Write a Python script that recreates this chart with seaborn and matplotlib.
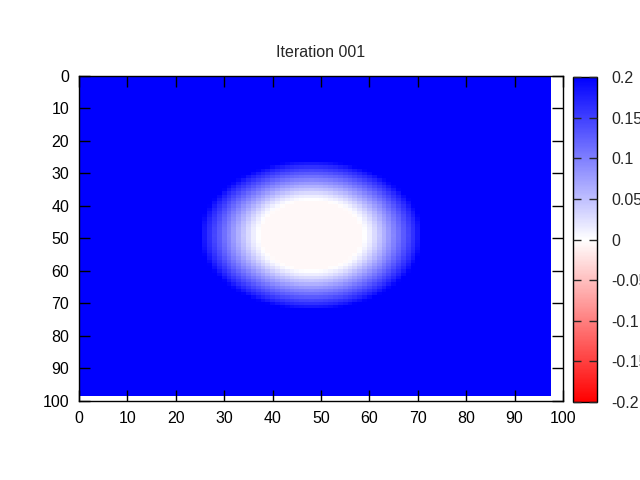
import numpy as np
import pandas as pd
import matplotlib
matplotlib.use('Agg')
import matplotlib.pyplot as plt
import seaborn as sns

sns.set_theme(style='ticks')
plt.rcParams['font.family'] = ['Liberation Sans', 'DejaVu Sans']

# grid size and blob centre
n_cols = 98
n_rows = 99
centre_x = 48
centre_y = 49

ring_radius = [0, 10.5, 11, 12.5, 14, 15.5, 17, 18.5, 20, 21.5, 23, 80]
ring_value = [-0.006, -0.006, 0.0, 0.02, 0.045, 0.07, 0.095, 0.12, 0.145,
              0.17, 0.2, 0.2]

x_ticks = [0, 10, 20, 30, 40, 50, 60, 70, 80, 90, 100]
y_ticks = [0, 10, 20, 30, 40, 50, 60, 70, 80, 90, 100]
cbar_ticks = [-0.2, -0.15, -0.1, -0.05, 0, 0.05, 0.1, 0.15, 0.2]
cbar_labels = ['-0.2', '-0.15', '-0.1', '-0.05', '0', '0.05', '0.1', '0.15',
               '0.2']

cols, rows = np.meshgrid(np.arange(n_cols), np.arange(n_rows))
dist = np.hypot(cols - centre_x, rows - centre_y)
field = pd.DataFrame(np.interp(dist, ring_radius, ring_value))

fig = plt.figure(figsize=(6.4, 4.8), dpi=100)
ax = fig.add_axes([79 / 640, 1 - 401 / 480, 484 / 640, 325 / 480])
cax = fig.add_axes([573 / 640, 1 - 402 / 480, 24 / 640, 325 / 480])

sns.heatmap(field, ax=ax, cbar_ax=cax, cmap='bwr_r', vmin=-0.2, vmax=0.2,
            xticklabels=False, yticklabels=False)

# gnuplot puts cell centres on integer coordinates
ax.set_xlim(0.5, 100.5)
ax.set_ylim(100.5, 0.5)
ax.set_xticks([t + 0.5 for t in x_ticks])
ax.set_xticklabels([str(t) for t in x_ticks], rotation=0)
ax.set_yticks([t + 0.5 for t in y_ticks])
ax.set_yticklabels([str(t) for t in y_ticks], rotation=0)
ax.set_axisbelow(False)
ax.set_facecolor('white')
for spine in ax.spines.values():
    spine.set_visible(True)
    spine.set_color('black')
    spine.set_linewidth(1)
    spine.set_zorder(5)
ax.tick_params(direction='in', length=8, width=1, colors='black',
               top=True, right=True, bottom=True, left=True,
               labelsize=11.5, pad=7)
ax.set_xlabel('')
ax.set_ylabel('')
ax.set_title('Iteration 001', fontsize=11.5, pad=14)

cb = ax.collections[0].colorbar
cb.outline.set_linewidth(1)
cb.outline.set_edgecolor('black')
cb.set_ticks(cbar_ticks)
cb.set_ticklabels(cbar_labels)
cax.set_axisbelow(False)
cax.tick_params(direction='in', length=6, width=1, left=True, right=True,
                labelsize=11.5, pad=10)

plt.savefig('out.png', dpi=100)
